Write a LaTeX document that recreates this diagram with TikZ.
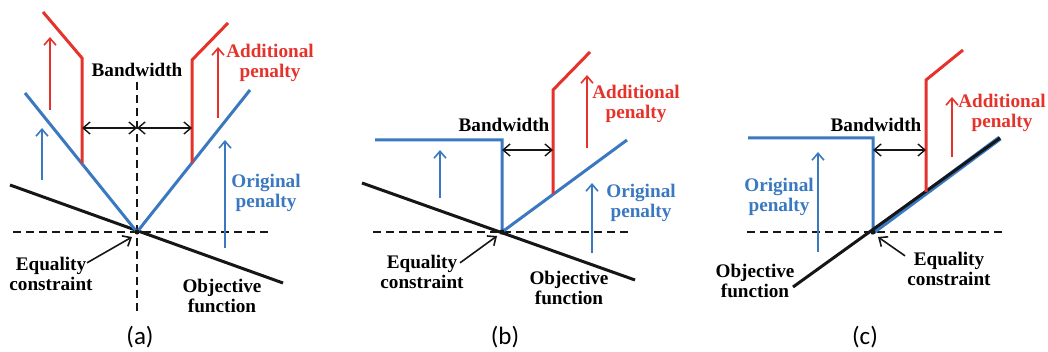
\documentclass[tikz,border=0pt]{standalone}
\usepackage{fontspec}
\setmainfont{Carlito}
\newfontfamily\lblfont{Liberation Serif}
\usepackage{xcolor}
\usepackage{tikz}
\usetikzlibrary{arrows.meta,positioning,calc}
\definecolor{bwBlue}{HTML}{3A78C0}
\definecolor{bwRed}{HTML}{E5322A}
\definecolor{bwInk}{HTML}{161616}

\tikzset{
  penalty/.style={bwBlue,line width=1.5pt},
  addpen/.style={bwRed,line width=1.5pt},
  objline/.style={bwInk,line width=1.5pt},
  axisline/.style={bwInk,line width=1pt,dash pattern=on 4pt off 2.5pt},
  bwarrow/.style={<->,bwInk,line width=0.7pt},
  uparrow/.style={->,line width=0.8pt},
  lbl/.style={font=\lblfont\fontsize{9.6}{10}\selectfont\bfseries,align=center,inner sep=0pt},
  sublabel/.style={font=\fontsize{12.5}{14}\selectfont,inner sep=0pt}
}

\begin{document}
\begin{tikzpicture}[x=0.5pt,y=-0.5pt,>={Straight Barb[length=3.5pt,width=6pt]}]
\useasboundingbox (0,0) rectangle (1048,352);
% (a) two-sided penalty
\begin{scope}[shift={(137,232)}]
 \coordinate (oa) at (0,0);
 \coordinate (eqtipa) at (-5,5);
 \draw[axisline] (-124,0) -- (131,0);
 \draw[axisline] (0,-150) -- (0,83);
 \draw[objline] (-127,-47) -- (146,51);
 \draw[penalty] (-112,-139) -- (oa) -- (113,-142);
 \draw[addpen] (-94,-220) -- (-55,-174) -- (-55,-69);
 \draw[addpen] (55,-69) -- (55,-172) -- (91,-209);
 \draw[bwarrow] (-55,-104) -- (0,-104);
 \draw[bwarrow] (0,-104) -- (55,-104);
 \draw[uparrow,bwRed] (-87,-122) -- (-87,-195);
 \draw[uparrow,bwRed] (81,-114) -- (81,-185);
 \draw[uparrow,bwBlue] (-95,-52) -- (-95,-104);
 \draw[uparrow,bwBlue] (88,16) -- (88,-92);
 \fill[bwInk] (oa) circle (2.5);
 \node[lbl] (bwa) at (0,-162) {Bandwidth};
 \node[lbl,bwRed] (adda) at (133,-169) {Additional\\penalty};
 \node[lbl,bwBlue] (orga) at (129,-39) {Original\\penalty};
 \node[lbl] (eqa) at (-86,42) {Equality\\constraint};
 \node[lbl] (obja) at (85,64) {Objective\\function};
 \node[sublabel] (capa) at (3,105) {(a)};
 \draw[->,bwInk,line width=0.8pt] ($(eqa.north east)+(-6,6)$) -- (eqtipa);
\end{scope}
% (b) one-sided hard penalty
\begin{scope}[shift={(502,232)}]
 \coordinate (ob) at (0,0);
 \coordinate (eqtipb) at (-5,4);
 \draw[axisline] (-129,0) -- (126,0);
 \draw[objline] (-140,-49) -- (133,48);
 \draw[penalty] (-127,-92) -- (0,-92) -- (ob) -- (125,-92);
 \draw[addpen] (51,-38) -- (51,-142) -- (88,-180);
 \draw[bwarrow] (0,-82) -- (51,-82);
 \draw[uparrow,bwBlue] (-62,-34) -- (-62,-82);
 \draw[uparrow,bwRed] (85,-84) -- (85,-157);
 \draw[uparrow,bwBlue] (90,21) -- (90,-49);
 \fill[bwInk] (ob) circle (2.5);
 \node[lbl] (bwb) at (2,-107) {Bandwidth};
 \node[lbl,bwRed] (addb) at (134,-128) {Additional\\penalty};
 \node[lbl,bwBlue] (orgb) at (139,-29) {Original\\penalty};
 \node[lbl] (eqb) at (-80,40) {Equality\\constraint};
 \node[lbl] (objb) at (67,56) {Objective\\function};
 \node[sublabel] (capb) at (3,105) {(b)};
 \draw[->,bwInk,line width=0.8pt] ($(eqb.north east)+(-4,8)$) -- (eqtipb);
\end{scope}
% (c) penalty on the objective side
\begin{scope}[shift={(873,232)}]
 \coordinate (oc) at (0,0);
 \coordinate (eqtipc) at (5,5);
 \draw[axisline] (-126,0) -- (129,0);
 \draw[penalty] (-125,-94) -- (0,-94) -- (oc) -- (53,-40);
 \draw[bwBlue,line width=2.6pt] (oc) -- (127,-94);
 \draw[objline] (-80,55) -- (127,-94);
 \draw[addpen] (53,-40) -- (53,-152) -- (90,-182);
 \draw[bwarrow] (0,-82) -- (53,-82);
 \draw[uparrow,bwBlue] (-55,20) -- (-55,-80);
 \draw[uparrow,bwRed] (79,-75) -- (79,-135);
 \fill[bwInk] (oc) circle (2.5);
 \node[lbl] (bwc) at (3,-107) {Bandwidth};
 \node[lbl,bwRed] (addc) at (129,-119) {Additional\\penalty};
 \node[lbl,bwBlue] (orgc) at (-94,-35) {Original\\penalty};
 \node[lbl] (eqc) at (76,37) {Equality\\constraint};
 \node[lbl] (objc) at (-118,49) {Objective\\function};
 \node[sublabel] (capc) at (-8,105) {(c)};
 \draw[->,bwInk,line width=0.8pt] ($(eqc.north west)+(-2,4)$) -- (eqtipc);
\end{scope}
\end{tikzpicture}
\end{document}
